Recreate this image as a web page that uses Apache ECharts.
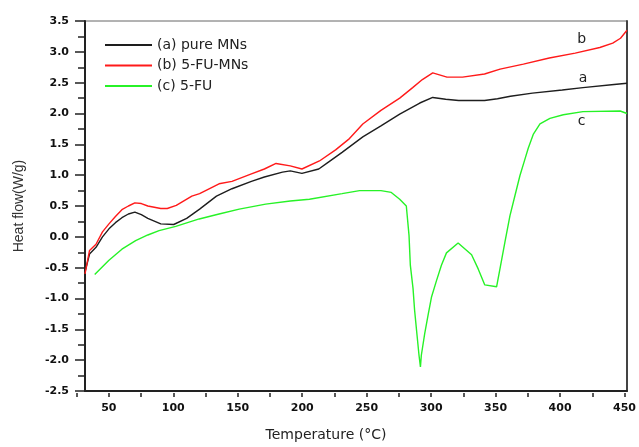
<!DOCTYPE html>
<html>
<head>
<meta charset="utf-8">
<script src="https://cdn.jsdelivr.net/npm/echarts@6/dist/echarts.min.js"></script>
<style>
html, body { margin: 0; padding: 0; background: #fff; }
#chart { width: 639px; height: 447px; }
</style>
</head>
<body>
<div id="chart"></div>
<script>
// DSC curves
var seriesNames = ['(a) pure MNs', '(b) 5-FU-MNs', '(c) 5-FU'];

var tempA = [31.5, 35, 40, 45, 50, 55, 60, 65, 70, 75, 80, 90, 100, 110, 120, 133, 145, 160, 170, 184, 190, 199, 212, 220, 230, 246, 260, 274.5, 290, 300, 310, 320, 340, 350, 360, 377, 400, 416, 440, 450];
var flowA = [-0.57, -0.28, -0.17, 0.0, 0.13, 0.23, 0.31, 0.37, 0.40, 0.36, 0.30, 0.21, 0.20, 0.30, 0.45, 0.66, 0.78, 0.90, 0.97, 1.05, 1.07, 1.03, 1.10, 1.22, 1.37, 1.62, 1.80, 1.99, 2.17, 2.26, 2.23, 2.21, 2.21, 2.24, 2.28, 2.33, 2.38, 2.42, 2.47, 2.49];

var tempB = [31.5, 35, 40, 45, 50, 55, 60, 65, 70, 75, 80, 90, 95, 102, 114, 120, 135, 145, 160, 170, 179, 190, 199, 212.5, 225, 235, 246, 260, 274.5, 284.5, 292, 300, 311, 323, 340, 352, 370, 390, 410, 429, 439, 445, 450];
var flowB = [-0.60, -0.22, -0.12, 0.08, 0.21, 0.33, 0.44, 0.50, 0.55, 0.54, 0.50, 0.46, 0.46, 0.51, 0.66, 0.70, 0.86, 0.90, 1.02, 1.10, 1.19, 1.15, 1.10, 1.23, 1.41, 1.58, 1.83, 2.05, 2.25, 2.42, 2.55, 2.66, 2.59, 2.59, 2.64, 2.72, 2.80, 2.90, 2.98, 3.07, 3.14, 3.22, 3.35];

var tempC = [39, 50, 60, 70.6, 80, 88.7, 101.6, 119.7, 135, 150.6, 171, 190, 204.8, 230, 243.5, 260, 268, 274.5, 279.6, 281.7, 282.7, 284.8, 286, 287.9, 289.4, 290.5, 291.2, 293.8, 296.4, 299, 302.9, 306.7, 310.6, 319.6, 330, 335.1, 340.2, 349.3, 351.9, 355.7, 359.6, 363.5, 367.3, 371.2, 373.8, 377.6, 382.8, 390.5, 400.8, 416, 444.7, 450];
var flowC = [-0.61, -0.38, -0.20, -0.06, 0.03, 0.10, 0.17, 0.29, 0.37, 0.45, 0.53, 0.58, 0.61, 0.70, 0.75, 0.75, 0.72, 0.61, 0.50, 0.02, -0.46, -0.84, -1.19, -1.60, -1.92, -2.11, -1.92, -1.57, -1.27, -0.98, -0.71, -0.46, -0.26, -0.10, -0.29, -0.52, -0.78, -0.81, -0.52, -0.09, 0.34, 0.67, 0.99, 1.26, 1.44, 1.66, 1.83, 1.92, 1.98, 2.03, 2.04, 2.00];

// temperature axis: data starts at 31.5, ticks every 25, labels every 50
var tMin = 31.5, tMax = 450, tickStart = 25, tickStep = 25;

// curve letters a / b / c next to the right end
var curveTags = ['a', 'b', 'c'];
var tagTemp = [416, 415, 415];
var tagFlow = [2.57, 3.2, 1.88];

var colors = ['#1e1e1e', '#ff1a1a', '#27f227'];

function pairs(xs, ys) {
    var out = [];
    for (var i = 0; i < xs.length; i++) {
        out.push([xs[i], ys[i]]);
    }
    return out;
}

var lineData = [pairs(tempA, flowA), pairs(tempB, flowB), pairs(tempC, flowC)];

var series = [];
for (var i = 0; i < 3; i++) {
    series.push({
        name: seriesNames[i],
        type: 'line',
        xAxisIndex: 0,
        yAxisIndex: 0,
        data: lineData[i],
        symbol: 'none',
        smooth: false,
        lineStyle: { color: colors[i], width: 1.4 },
        itemStyle: { color: colors[i] },
        markPoint: {
            symbol: 'rect',
            symbolSize: 1,
            itemStyle: { color: 'rgba(0,0,0,0)' },
            label: {
                show: true,
                position: 'inside',
                formatter: curveTags[i],
                color: '#222',
                fontFamily: 'DejaVu Sans',
                fontSize: 14
            },
            data: [{ coord: [tagTemp[i], tagFlow[i]] }]
        }
    });
}

// the tick grid is widened to the left so its axis can start at a multiple of 25
var plotLeft = 85, plotRight = 12;
var pxPerUnit = (639 - plotLeft - plotRight) / (tMax - tMin);
var tickLeft = plotLeft - (tMin - tickStart) * pxPerUnit;

var options = {
    animation: false,
    backgroundColor: '#fff',
    grid: [
        { left: plotLeft, right: plotRight, top: 21, bottom: 54, show: true, borderColor: '#666', borderWidth: 1 },
        { left: tickLeft, right: plotRight, top: 21, bottom: 54 }
    ],
    legend: {
        left: 100,
        top: 33,
        orient: 'vertical',
        icon: 'rect',
        itemWidth: 47,
        itemHeight: 2,
        itemGap: 6.5,
        textStyle: { fontFamily: 'DejaVu Sans', fontSize: 14, lineHeight: 14, color: '#222' },
        data: seriesNames
    },
    xAxis: [
        {
            gridIndex: 0,
            type: 'value',
            min: tMin,
            max: tMax,
            name: 'Temperature (°C)',
            nameLocation: 'middle',
            nameGap: 37,
            nameTextStyle: { fontFamily: 'DejaVu Sans', fontSize: 14, color: '#222', padding: [0, 60, 0, 0] },
            axisLine: { show: true, onZero: false, lineStyle: { color: '#222', width: 2 } },
            axisTick: { show: false },
            axisLabel: { show: false },
            splitLine: { show: false }
        },
        {
            gridIndex: 1,
            type: 'value',
            min: tickStart,
            max: tMax,
            interval: tickStep,
            axisLine: { show: false, onZero: false },
            axisTick: { show: true, length: 4, lineStyle: { color: '#222', width: 1.5 } },
            axisLabel: {
                margin: 10,
                fontFamily: 'DejaVu Sans',
                fontWeight: 'bold',
                fontSize: 11,
                color: '#111',
                formatter: function (v) { return v % 50 === 0 ? String(v) : ''; }
            },
            splitLine: { show: false }
        }
    ],
    yAxis: [
        {
            gridIndex: 0,
            type: 'value',
            min: -2.5,
            max: 3.5,
            interval: 0.5,
            name: 'Heat flow(W/g)',
            nameLocation: 'middle',
            nameGap: 59,
            nameTextStyle: { fontFamily: 'Liberation Sans', fontSize: 14, color: '#333' },
            axisLine: { show: true, onZero: false, lineStyle: { color: '#222', width: 2 } },
            axisTick: { show: true, length: 10, lineStyle: { color: '#222', width: 1.5 } },
            minorTick: { show: true, splitNumber: 2, length: 7, lineStyle: { color: '#222', width: 1.5 } },
            axisLabel: {
                margin: 16,
                fontFamily: 'DejaVu Sans',
                fontWeight: 'bold',
                fontSize: 11,
                color: '#111',
                formatter: function (v) { return v.toFixed(1); }
            },
            splitLine: { show: false }
        },
        {
            gridIndex: 0,
            type: 'value',
            min: -2.5,
            max: 3.5,
            position: 'right',
            axisLine: { show: true, onZero: false, lineStyle: { color: '#444', width: 2 } },
            axisTick: { show: false },
            axisLabel: { show: false },
            splitLine: { show: false }
        },
        {
            gridIndex: 1,
            type: 'value',
            min: -2.5,
            max: 3.5,
            show: false
        }
    ],
    series: series
};

echarts.init(document.getElementById('chart')).setOption(options);
</script>
</body>
</html>
